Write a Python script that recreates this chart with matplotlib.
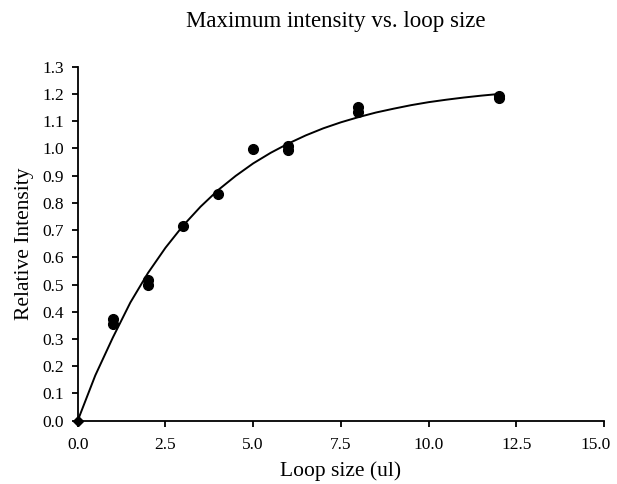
import matplotlib.pyplot as plt
import matplotlib.transforms as mtransforms

# measured points (loop size in ul, relative intensity)
loop_size = [1, 1, 2, 2, 3, 4, 5, 6, 6, 8, 8, 12, 12]
intensity = [0.375, 0.355, 0.515, 0.498, 0.715, 0.832, 0.997, 0.995, 1.008, 1.135, 1.152, 1.185, 1.192]

# fitted curve
fit_x = [0, 0.5, 1, 1.5, 2, 2.5, 3, 3.5, 4, 4.5, 5, 5.5, 6, 6.5, 7, 7.5, 8,
         8.5, 9, 9.5, 10, 10.5, 11, 11.5, 12]
fit_y = [0.0, 0.166, 0.305, 0.434, 0.542, 0.635, 0.716, 0.786, 0.847, 0.899, 0.945,
         0.984, 1.018, 1.048, 1.074, 1.096, 1.115, 1.132, 1.146, 1.159, 1.170,
         1.179, 1.187, 1.194, 1.200]

x_ticks = [0.0, 2.5, 5.0, 7.5, 10.0, 12.5, 15.0]
y_ticks = [round(0.1 * i, 1) for i in range(14)]

plt.rcParams['font.family'] = ['Liberation Serif', 'DejaVu Serif']

fig = plt.figure(figsize=(6.17, 4.84), dpi=100)
ax = fig.add_axes([0.126, 0.131, 0.853, 0.731])

ax.plot(fit_x, fit_y, color='black', lw=1.4, clip_on=False)
ax.plot(loop_size, intensity, 'o', color='black', ms=7, clip_on=False)
ax.plot([0], [0], 'D', color='black', ms=5, clip_on=False)

ax.set_xlim(0, 15)
ax.set_ylim(0, 1.3)
ax.set_xticks(x_ticks)
ax.set_xticklabels(['%.1f' % v for v in x_ticks])
ax.set_yticks(y_ticks)
ax.set_yticklabels(['%.1f' % v for v in y_ticks])

for side in ['top', 'right']:
    ax.spines[side].set_visible(False)
for side in ['left', 'bottom']:
    ax.spines[side].set_linewidth(1.3)
ax.tick_params(direction='out', length=4, width=1.3, labelsize=12.5, color='black')
ax.tick_params(axis='y', pad=6)
ax.tick_params(axis='x', pad=8)

# last x label sits a bit left so it stays inside the figure
last = ax.get_xticklabels()[-1]
last.set_transform(last.get_transform() +
                   mtransforms.ScaledTranslation(-8 / 100, 0, fig.dpi_scale_trans))

ax.set_xlabel('Loop size (ul)', fontsize=15.5, labelpad=6)
ax.set_ylabel('Relative Intensity', fontsize=15.5, labelpad=6)
fig.text(335.5 / 617, 1 - 21 / 484, 'Maximum intensity vs. loop size',
         fontsize=16.5, ha='center', va='center')

fig.savefig('out.png', dpi=100)
